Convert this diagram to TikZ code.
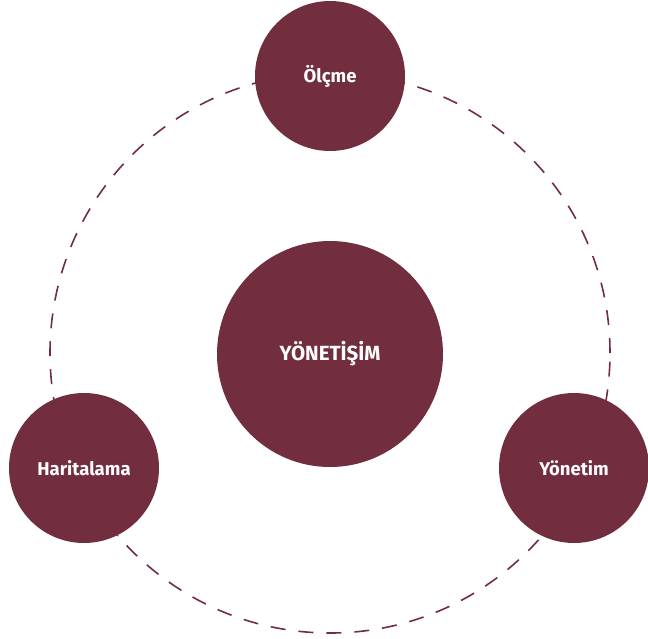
\documentclass[tikz,border=0pt]{standalone}
\usepackage{fontspec}
\setmainfont{Fira Sans}
\definecolor{wine}{RGB}{114,45,62}
\tikzset{
  ring/.style={draw=wine, line width=1.6pt, dash pattern=on 15pt off 13pt},
  smallc/.style={circle, fill=wine, minimum size=150pt, inner sep=0pt, text=white, font=\fontsize{18.5}{20}\selectfont\bfseries},
  bigc/.style={circle, fill=wine, minimum size=226pt, inner sep=0pt, text=white, font=\fontsize{20.5}{22}\selectfont\bfseries}
}
\begin{document}
\begin{tikzpicture}[x=1pt,y=-1pt]
\useasboundingbox (0,0) rectangle (648,638);
\coordinate (ctr) at (330,353);
\draw[ring] (ctr) circle (280pt);
\node[bigc] (gov) at (330,354) {YÖNETİŞİM};
\node[smallc] (olc) at (330,76) {Ölçme};
\node[smallc] (har) at (84,468) {Haritalama};
\node[smallc] (yon) at (574,468) {Yönetim};
\end{tikzpicture}
\end{document}
